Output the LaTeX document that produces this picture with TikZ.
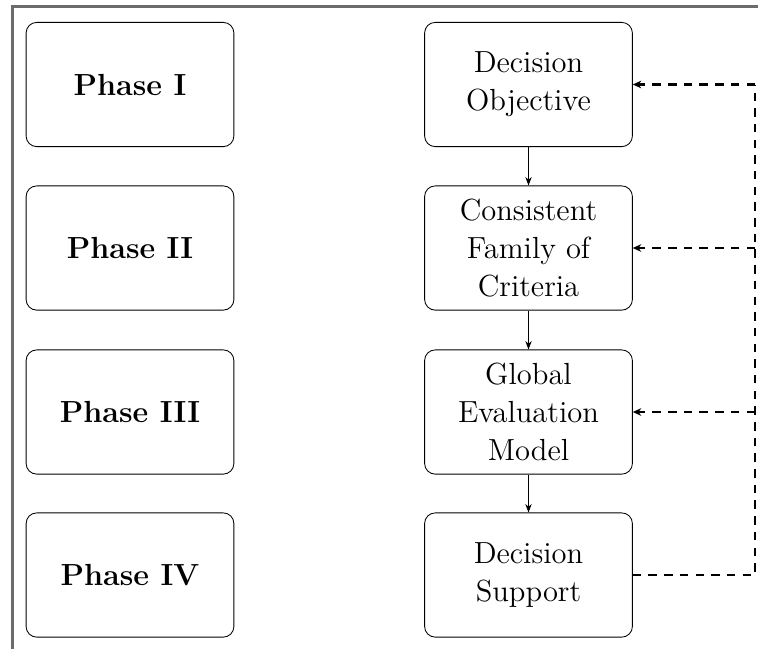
\documentclass[tikz,border=0pt]{standalone}
\usetikzlibrary{arrows.meta}
\begin{document}
\begin{tikzpicture}[x=0.4717pt,y=-0.4717pt,
  phasebox/.style={draw, rounded corners=5pt, minimum width=98pt, minimum height=58.6pt,
    align=center, font=\Large\bfseries, inner sep=2pt},
  stagebox/.style={draw, rounded corners=5pt, minimum width=98pt, minimum height=58.6pt,
    align=center, font=\Large, inner sep=2pt},
  flow/.style={-{Stealth[length=4pt,width=3pt]}},
  feedback/.style={line width=1pt, dash pattern=on 4pt off 3.4pt},
  feedarrow/.style={feedback, -{Stealth[length=4pt,width=3.6pt]}}]
  \useasboundingbox (0,0) rectangle (758,648);
  \clip (0,0) rectangle (758,648);
  % outer frame
  \draw[black!58, line width=1.1pt] (12.5,6.5) rectangle (820,720);

  % phase labels
  \node[phasebox] (p1) at (130,84.5) {Phase I};
  \node[phasebox] (p2) at (130,248) {Phase II};
  \node[phasebox] (p3) at (130,412) {Phase III};
  \node[phasebox] (p4) at (130,575) {Phase IV};

  % process stages
  \node[stagebox] (s1) at (528.5,84.5) {Decision\\Objective};
  \node[stagebox] (s2) at (528.5,248) {Consistent\\Family of\\Criteria};
  \node[stagebox] (s3) at (528.5,412) {Global\\Evaluation\\Model};
  \node[stagebox] (s4) at (528.5,575) {Decision\\Support};

  \draw[flow] (s1) -- (s2);
  \draw[flow] (s2) -- (s3);
  \draw[flow] (s3) -- (s4);

  % feedback loop
  \coordinate (fb) at (755,575);
  \coordinate (ft) at (755,84.5);
  \coordinate (f2) at (755,248);
  \coordinate (f3) at (755,412);
  \draw[feedback] (s4.east) -- (fb) -- (ft);
  \draw[feedarrow] (ft) -- (s1.east);
  \draw[feedarrow] (f2) -- (s2.east);
  \draw[feedarrow] (f3) -- (s3.east);
\end{tikzpicture}
\end{document}
